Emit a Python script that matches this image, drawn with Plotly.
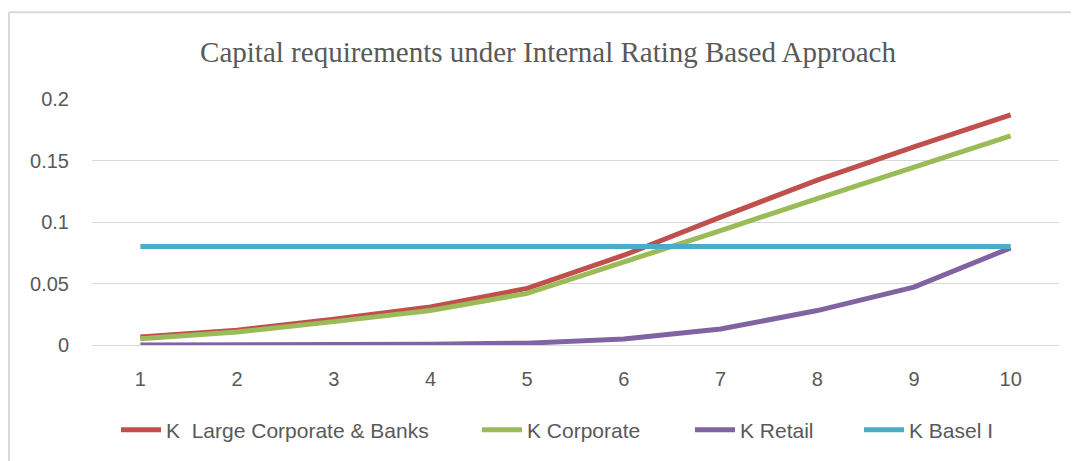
import plotly.graph_objects as go

# data
categories = ["1", "2", "3", "4", "5", "6", "7", "8", "9", "10"]
k_large_corp_banks = [0.0065, 0.012, 0.021, 0.031, 0.046, 0.073, 0.104, 0.134, 0.161, 0.187]
k_corporate = [0.005, 0.0105, 0.019, 0.028, 0.042, 0.067, 0.093, 0.119, 0.145, 0.170]
k_retail = [0.0, 0.0001, 0.0003, 0.0007, 0.0015, 0.0048, 0.013, 0.028, 0.047, 0.079]
k_basel_1 = [0.08] * 10

series = [
    ("K  Large Corporate & Banks", k_large_corp_banks, "#C0504D"),
    ("K Corporate", k_corporate, "#9BBB59"),
    ("K Retail", k_retail, "#8064A2"),
    ("K Basel I", k_basel_1, "#4BACC6"),
]
# where each legend entry's text starts in the reference (page px)
legend_text_x = [168, 529, 742, 911]

# the page body has an 8px margin, so the figure starts at (8, 8)
OFF = 8
W, H = 1079 - OFF, 461 - OFF
L, R, T, B = 92 - OFF, 20, 99 - OFF, 115
pw, ph = W - L - R, H - T - B

fig = go.Figure()
legends = {}
for i, (name, vals, color) in enumerate(series):
    key = "legend" if i == 0 else f"legend{i + 1}"
    fig.add_trace(go.Scatter(
        x=categories, y=vals, mode="lines", name=name, legend=key,
        line=dict(color=color, width=5),
    ))
    legends[key] = dict(
        orientation="h", x=(legend_text_x[i] - 52 - OFF - L) / pw, xanchor="left",
        y=-(430 - 346) / ph, yanchor="middle",
        font=dict(size=21, color="#595959"), itemwidth=40,
        bgcolor="rgba(0,0,0,0)",
    )

# outer chart border (only left and top edges are visible in the crop)
bx = (9 - OFF - L) / pw
by = (H - B - (12 - OFF)) / ph
fig.add_shape(type="line", xref="paper", yref="paper", x0=bx, x1=1.2, y0=by, y1=by,
              line=dict(color="#D9D9D9", width=2))
fig.add_shape(type="line", xref="paper", yref="paper", x0=bx, x1=bx, y0=by, y1=-1,
              line=dict(color="#D9D9D9", width=2))

fig.update_layout(
    width=W, height=H,
    margin=dict(l=L, r=R, t=T, b=B),
    paper_bgcolor="white", plot_bgcolor="white",
    font=dict(family="Liberation Sans, Arial, sans-serif", size=20, color="#595959"),
    title=dict(
        text="Capital requirements under Internal Rating Based Approach",
        font=dict(family="Liberation Serif, Times New Roman, serif", size=29, color="#595959"),
        x=(548 - OFF) / W, xanchor="center", y=1 - (52 - OFF) / H, yanchor="middle",
    ),
    showlegend=True,
    **legends,
)
fig.update_xaxes(
    type="category", range=[-0.5, 9.5], showgrid=False, zeroline=False,
    showline=False, ticks="", ticklabelstandoff=20, fixedrange=True,
)
fig.update_yaxes(
    range=[0, 0.2], dtick=0.05, showgrid=True, gridcolor="#D9D9D9", gridwidth=1,
    zeroline=True, zerolinecolor="#D9D9D9", zerolinewidth=1,
    showline=False, ticks="", ticklabelstandoff=22,
)

fig.write_html("out.html")
